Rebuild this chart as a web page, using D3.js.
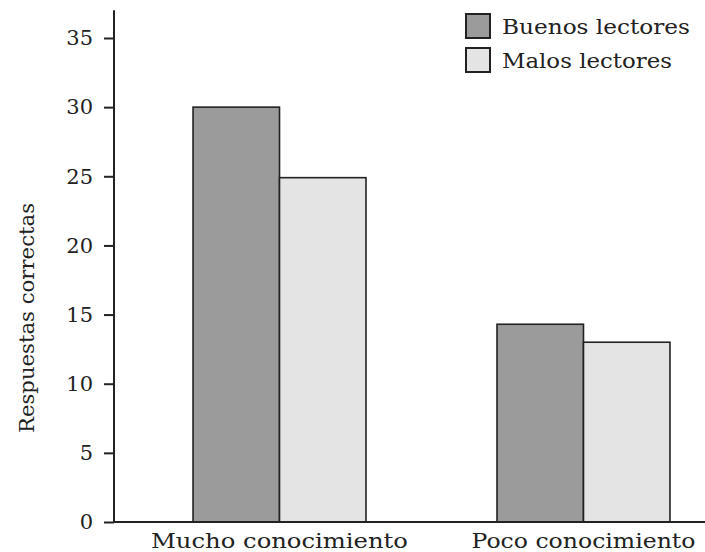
<!DOCTYPE html>
<html><head><meta charset="utf-8">
<script src="https://cdn.jsdelivr.net/npm/d3@7"></script>
</head><body style="margin:0;background:#fff">
<svg id="c" width="705" height="552" style="display:block"></svg>
<script>
const categories = ["Mucho conocimiento", "Poco conocimiento"];
const seriesNames = ["Buenos lectores", "Malos lectores"];
const buenos = [30, 14.3];
const malos = [24.9, 13.0];
const yTicks = [0, 5, 10, 15, 20, 25, 30, 35];
const colors = ["#9b9b9b", "#e4e4e4"];

const FONT = "DejaVu Serif";
const W = 705, H = 552;
const left = 114, base = 522;
const svg = d3.select("#c");

const y = d3.scaleLinear().domain([0, 35]).range([base, 38]);
const x0 = d3.scaleBand().domain(categories).range([left, 749]).paddingInner(0.431).paddingOuter(0.26);
const x1 = d3.scaleBand().domain(seriesNames).range([0, x0.bandwidth()]);

const data = categories.map((c, i) => ({cat: c, vals: [buenos[i], malos[i]]}));

svg.append("g").selectAll("g.grp").data(data).join("g").attr("class", "grp")
  .attr("transform", d => `translate(${x0(d.cat)},0)`)
  .selectAll("rect").data(d => d.vals.map((v, j) => ({v, j})))
  .join("rect")
  .attr("x", d => x1(seriesNames[d.j]))
  .attr("width", x1.bandwidth())
  .attr("y", d => y(d.v))
  .attr("height", d => y(0) - y(d.v))
  .attr("fill", d => colors[d.j])
  .attr("stroke", "#222").attr("stroke-width", 1.6);

// y axis
const ya = svg.append("g").attr("transform", `translate(${left},0)`)
  .call(d3.axisLeft(y).tickValues(yTicks).tickSize(10).tickPadding(11).tickSizeOuter(0));
ya.attr("font-family", FONT).attr("font-size", 21);
ya.select(".domain").remove();
ya.selectAll(".tick line").attr("stroke", "#222").attr("stroke-width", 2);
ya.selectAll(".tick text").attr("font-size", 21).attr("font-family", FONT).attr("fill", "#222");
svg.append("line").attr("x1", left).attr("x2", left).attr("y1", y(37)).attr("y2", base + 1)
  .attr("stroke", "#222").attr("stroke-width", 2);
// x axis
svg.append("line").attr("x1", left - 1).attr("x2", W).attr("y1", base).attr("y2", base)
  .attr("stroke", "#222").attr("stroke-width", 2);
const xWidths = [257, 224];
svg.selectAll("text.xl").data(categories).join("text").attr("class", "xl")
  .attr("x", d => x0(d) + x0.bandwidth() / 2).attr("y", 548)
  .attr("text-anchor", "middle").attr("font-size", 21).attr("font-family", FONT).attr("fill", "#222")
  .attr("textLength", (d, i) => xWidths[i]).attr("lengthAdjust", "spacingAndGlyphs")
  .text(d => d);

// y label
svg.append("text").attr("transform", `translate(34,318) rotate(-90)`)
  .attr("text-anchor", "middle").attr("font-size", 21).attr("font-family", FONT).attr("fill", "#222")
  .attr("textLength", 230).attr("lengthAdjust", "spacingAndGlyphs")
  .text("Respuestas correctas");

// legend
const legWidths = [188, 170];
const lg = svg.append("g").attr("transform", "translate(466,14)");
seriesNames.forEach((s, i) => {
  lg.append("rect").attr("x", 0).attr("y", i * 34).attr("width", 24).attr("height", 24)
    .attr("fill", colors[i]).attr("stroke", "#222").attr("stroke-width", 2);
  lg.append("text").attr("x", 36).attr("y", i * 34 + 20).attr("font-size", 21)
    .attr("font-family", FONT).attr("fill", "#222")
    .attr("textLength", legWidths[i]).attr("lengthAdjust", "spacingAndGlyphs").text(s);
});
</script>
</body></html>
